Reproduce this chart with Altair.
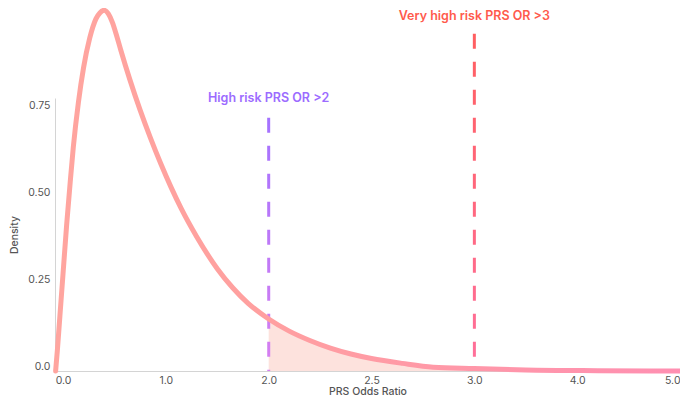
import altair as alt
import pandas as pd

# ---- data ----
# x is the evenly spaced axis position (tick i is labelled tick_labels[i])
curve_x = [-0.072, -0.055, -0.030, 0.000, 0.035, 0.070, 0.100, 0.150, 0.200, 0.260,
           0.320, 0.360, 0.400, 0.440, 0.480, 0.520, 0.560, 0.650, 0.750, 0.850,
           0.950, 1.050, 1.150, 1.300, 1.500, 1.650, 1.800, 2.000, 2.200, 2.400,
           2.600, 2.800, 3.000, 3.300, 3.600, 4.000, 4.500, 5.200, 6.070]
curve_y = [0.000, 0.060, 0.160, 0.280, 0.420, 0.545, 0.645, 0.775, 0.875, 0.960,
           1.015, 1.033, 1.040, 1.030, 1.005, 0.968, 0.927, 0.840, 0.752, 0.672,
           0.598, 0.530, 0.468, 0.387, 0.295, 0.240, 0.195, 0.150, 0.115, 0.088,
           0.066, 0.049, 0.036, 0.022, 0.011, 0.007, 0.003, 0.001, 0.000]

tick_pos = [0, 1, 2, 3, 4, 5, 6]
tick_labels = ["0.0", "1.0", "2.0", "2.5", "3.0", "4.0", "5.0"]
y_ticks = [0.0, 0.25, 0.5, 0.75]
y_labels = ["0.0", "0.25", "0.50", "0.75"]

thresholds = ["High risk PRS OR >2", "Very high risk PRS OR >3"]
threshold_x = [2, 4]
threshold_top = [0.730, 0.972]
label_y = [0.787, 1.023]

curve_df = pd.DataFrame({"x": curve_x, "y": curve_y})

FONT = "Inter"
xs = alt.Scale(domain=[-0.078, 6.0], nice=False, zero=False)
ys = alt.Scale(domain=[0, 0.787], nice=False)

x_label_expr = " : ".join(
    [f"datum.value == {p} ? '{l}'" for p, l in zip(tick_pos, tick_labels)]) + " : ''"
y_label_expr = " : ".join(
    [f"datum.value == {p} ? '{l}'" for p, l in zip(y_ticks, y_labels)]) + " : ''"

xaxis = alt.Axis(values=tick_pos, labelExpr=x_label_expr, title="PRS Odds Ratio",
                 grid=False, ticks=False, domainColor="#d4d4d4", domainWidth=1,
                 labelColor="#555555", labelFontSize=10.5, labelFont=FONT,
                 labelPadding=4, titleFont=FONT, titleFontSize=10.5,
                 titleFontWeight=500, titleColor="#555555", titlePadding=1,
                 labelFlush=True, labelOverlap=False)
yaxis = alt.Axis(values=y_ticks, labelExpr=y_label_expr, title="Density",
                 grid=False, ticks=False, domainColor="#d4d4d4", domainWidth=1,
                 labelColor="#555555", labelFontSize=10.5, labelFont=FONT,
                 labelPadding=5, labelBaseline="bottom", titleFont=FONT,
                 titleFontSize=10.5, titleFontWeight=500, titleColor="#555555",
                 titlePadding=8, labelFlush=False)


def X(field="x"):
    return alt.X(f"{field}:Q", scale=xs, axis=xaxis)


def Y(field="y"):
    return alt.Y(f"{field}:Q", scale=ys, axis=yaxis)


area = alt.Chart(curve_df).transform_filter(alt.datum.x >= 2).mark_area(
    color="#fde0db", opacity=0.95, clip=False, interpolate="monotone"
).encode(x=X(), y=Y())

curve = alt.Chart(curve_df).mark_line(
    strokeWidth=5, strokeCap="round", strokeJoin="round", interpolate="monotone",
    clip=False,
    stroke=alt.Gradient(gradient="linear", x1=0, x2=1, y1=0, y2=0,
                        stops=[alt.GradientStop(color="#ffa59f", offset=0),
                               alt.GradientStop(color="#ffa09f", offset=0.3),
                               alt.GradientStop(color="#ff8fb2", offset=1)])
).encode(x=X(), y=Y())

dash_colors = [("#a472ff", "#d77ff0"), ("#ff5e60", "#ff709c")]
text_colors = ["#9c6cff", "#ff5a4c"]

layers = [area]
for i in range(2):
    ddf = pd.DataFrame({"x": [threshold_x[i], threshold_x[i] + 0.0005],
                        "y": [threshold_top[i], 0.0]})
    top, bot = dash_colors[i]
    layers.append(alt.Chart(ddf).mark_line(
        strokeWidth=3, strokeDash=[15, 13], clip=False,
        stroke=alt.Gradient(gradient="linear", x1=0, x2=0, y1=0, y2=1,
                            stops=[alt.GradientStop(color=top, offset=0),
                                   alt.GradientStop(color=bot, offset=1)])
    ).encode(x=X(), y=Y()))
layers.append(curve)
for i in range(2):
    tdf = pd.DataFrame({"x": [threshold_x[i]], "y": [label_y[i]], "t": [thresholds[i]]})
    layers.append(alt.Chart(tdf).mark_text(
        font=FONT, fontSize=12.5, fontWeight=600, color=text_colors[i],
        baseline="middle", align="center", clip=False
    ).encode(x=X(), y=Y(), text="t:N"))

chart = alt.layer(*layers).properties(
    width=625, height=273,
    background="white",
    autosize=alt.AutoSizeParams(type="none"),
    padding={"left": 47, "top": 90, "right": 0, "bottom": 28},
).configure_view(stroke=None)

chart.save("out.html", embed_options={"renderer": "svg", "actions": False})
